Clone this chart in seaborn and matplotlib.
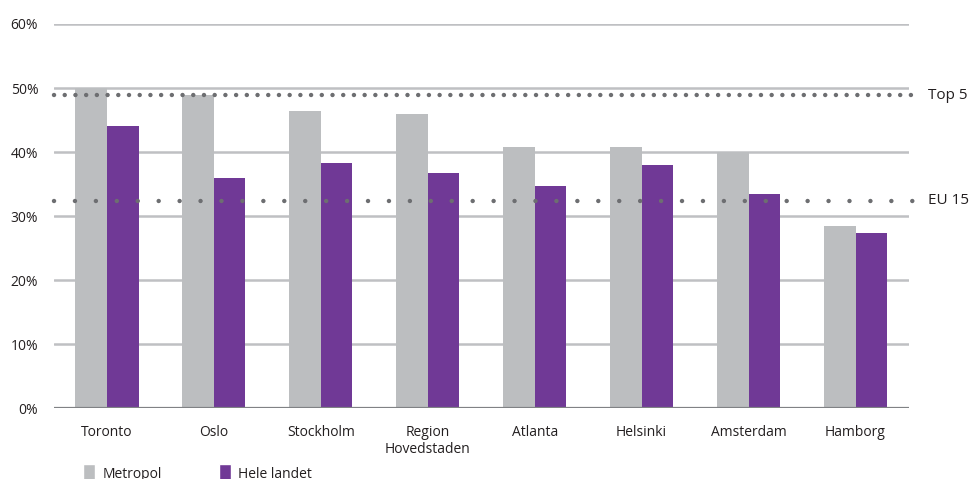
import pandas as pd
import matplotlib.pyplot as plt
import seaborn as sns
from matplotlib.patches import Patch

# Data (percent)
cities = ['Toronto', 'Oslo', 'Stockholm', 'Region\nHovedstaden', 'Atlanta',
          'Helsinki', 'Amsterdam', 'Hamborg']
metropol = [50.0, 48.9, 46.4, 45.9, 40.8, 40.8, 40.0, 28.4]
hele_landet = [44.0, 35.9, 38.3, 36.7, 34.7, 38.0, 33.4, 27.3]
series = ['Metropol', 'Hele landet']
top5 = 48.9
eu15 = 32.4
yticks = [0, 10, 20, 30, 40, 50, 60]

df = pd.DataFrame({
    'by': cities * 2,
    'andel': metropol + hele_landet,
    'serie': [series[0]] * len(cities) + [series[1]] * len(cities),
})

gray = '#bcbec0'
purple = '#703996'
dots = '#6d6e71'
txt = '#231f20'

sns.set_style('white')
plt.rcParams['font.family'] = ['Open Sans', 'DejaVu Sans']

fig = plt.figure(figsize=(9.75, 4.79), dpi=100)
ax = fig.add_axes([0.0549, 0.1482, 0.8774, 0.8017])

sns.barplot(data=df, x='by', y='andel', hue='serie', hue_order=series,
            palette=[gray, purple], width=0.59, saturation=1, legend=False,
            linewidth=0, ax=ax, zorder=2)

ax.set_ylim(0, 60)
ax.set_xlim(-0.5, len(cities) - 0.5)
ax.set_yticks(yticks)
ax.set_yticklabels([f'{v}%' for v in yticks])
ax.set_axisbelow(True)
ax.yaxis.grid(True, color='#bfc0c3', lw=1.8)
ax.xaxis.grid(False)
ax.axhline(0, color='#808285', lw=1.6, zorder=3)
sns.despine(ax=ax, left=True, bottom=True)
ax.set_xlabel('')
ax.set_ylabel('')
ax.tick_params(axis='y', length=0, pad=11, labelsize=10, labelcolor=txt)
ax.tick_params(axis='x', length=0, pad=12, labelsize=10, labelcolor=txt)

# reference lines
ax.axhline(top5, xmin=0, xmax=1.004, color=dots, lw=3.2,
           linestyle=(0, (0.01, 2.4)), dash_capstyle='round', zorder=4, clip_on=False)
ax.axhline(eu15, xmin=0, xmax=1.006, color=dots, lw=3.2,
           linestyle=(0, (0.01, 4.7)), dash_capstyle='round', zorder=4, clip_on=False)
ax.text(1.022, top5, 'Top 5', transform=ax.get_yaxis_transform(),
        ha='left', va='center', fontsize=11, color=txt)
ax.text(1.022, eu15, 'EU 15', transform=ax.get_yaxis_transform(),
        ha='left', va='center', fontsize=11, color=txt)

# legend along the bottom edge (partly cut off, as in the source)
handles = [Patch(facecolor=gray, label=series[0]),
           Patch(facecolor=purple, label=series[1])]
fig.legend(handles=handles, loc='upper left', bbox_to_anchor=(0.0851, 0.0313),
           ncol=2, frameon=False, fontsize=10, handlelength=0.86, handleheight=1.75,
           handletextpad=0.55, columnspacing=4.1, borderpad=0, borderaxespad=0,
           labelcolor=txt)

fig.savefig('out.png', dpi=100)
